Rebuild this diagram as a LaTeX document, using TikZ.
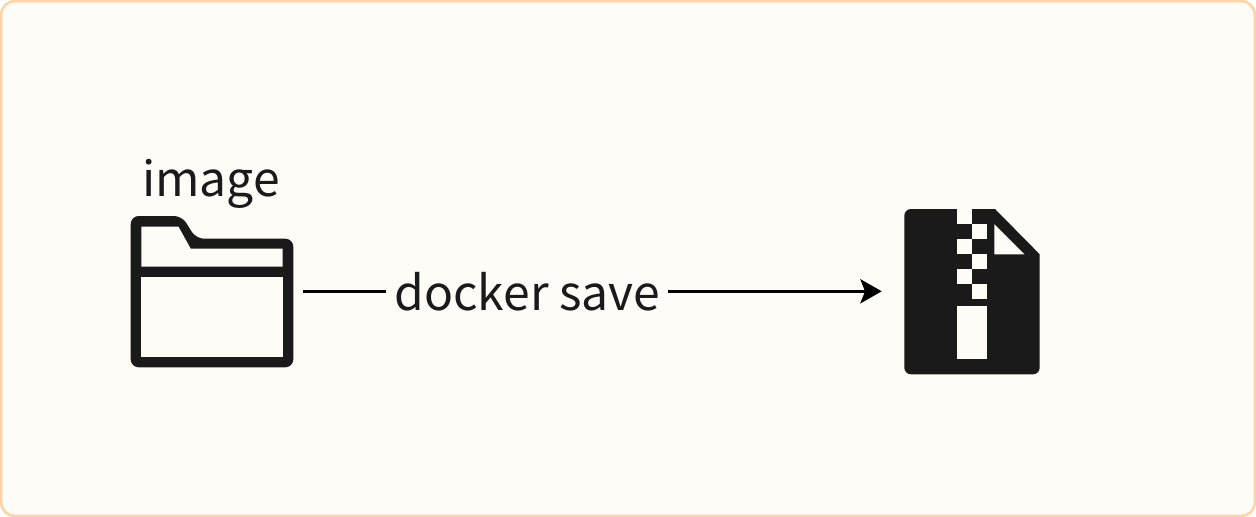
\documentclass[tikz,border=0pt]{standalone}
\usepackage{fontspec}
\setmainfont{Noto Sans CJK SC}
\usetikzlibrary{arrows.meta}
\definecolor{panelfill}{HTML}{FFFCF7}
\definecolor{panelline}{HTML}{FFD3A3}
\definecolor{ink}{HTML}{1A1A1A}
\tikzset{
  x=0.75pt,y=-0.75pt,
  panel/.style={draw=panelline,fill=panelfill,line width=1.9pt,rounded corners=10pt},
  label/.style={text=ink,font=\fontsize{36}{40}\selectfont,inner sep=0pt,anchor=base},
  icon/.style={inner sep=0pt,minimum width=0pt},
  flow/.style={draw=black,line width=2.7pt},
  flowarrow/.style={flow,-{Stealth[length=16pt,width=18pt,inset=3.5pt]}},
}
\begin{document}
\begin{tikzpicture}
\useasboundingbox (0,0) rectangle (1256,517);
\fill[white] (0,0) rectangle (1256,517);
\draw[panel] (1.2,1.2) rectangle (1254.8,515.8);
% folder icon
\fill[ink,rounded corners=6pt] (130.7,300) -- (130.7,216) -- (182,216) -- (196,238.7) -- (293.3,238.7) -- (293.3,367.3) -- (130.7,367.3) -- cycle;
\fill[panelfill] (141.3,226.7) -- (178.5,226.7) -- (190.7,248.7) -- (282.7,248.7) -- (282.7,266.7) -- (141.3,266.7) -- cycle;
\fill[panelfill] (141.3,277.3) rectangle (282.7,356.7);
\node[icon,minimum width=182*0.75pt,minimum height=152*0.75pt] (folder) at (212,291.5) {};
% zip icon
\fill[ink,rounded corners=5pt] (904.3,300) -- (904.3,374.3) -- (1039.7,374.3) [sharp corners] -- (1039.7,254.3) -- (995,209) [rounded corners=5pt] -- (904.3,209) -- cycle;
\fill[panelfill] (994.3,224.3) -- (994.3,254.3) -- (1024.3,254.3) -- cycle;
\fill[panelfill] (957,209) rectangle (972.2,224.3);
\fill[panelfill] (972.2,224.3) rectangle (987.3,239.3);
\fill[panelfill] (957,239.3) rectangle (972.2,254.3);
\fill[panelfill] (972.2,254.3) rectangle (987.3,269.3);
\fill[panelfill] (957,269.3) rectangle (972.2,284.3);
\fill[panelfill] (972.2,284.3) rectangle (987.3,299.3);
\fill[panelfill] (957,306) rectangle (987.3,359.3);
\node[icon,minimum width=158*0.75pt,minimum height=165*0.75pt] (zip) at (961,291.5) {};
% texts
\node[label] (imagetext) at (211,196) {image};
\node[label] (savetext) at (527.4,310) {docker save};
\coordinate (savemid) at (528,291.3);
% connectors
\draw[flow] (folder.east |- savemid) -- (386,291.3);
\draw[flowarrow] (668,291.3) -- (zip.west |- savemid);
\end{tikzpicture}
\end{document}
